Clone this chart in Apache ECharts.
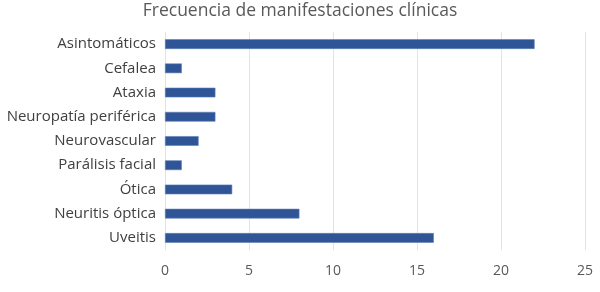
<!DOCTYPE html>
<html><head><meta charset="utf-8">
<script src="https://cdn.jsdelivr.net/npm/echarts@6/dist/echarts.min.js"></script>
<style>html,body{margin:0;padding:0;background:#fff}#c{width:600px;height:292px}</style>
</head><body><div id="c"></div>
<script>
const categories = ["Asintomáticos","Cefalea","Ataxia","Neuropatía periférica","Neurovascular","Parálisis facial","Ótica","Neuritis óptica","Uveitis"];
const values = [22,1,3,3,2,1,4,8,16];
const chart = echarts.init(document.getElementById('c'));
chart.setOption({
  animation:false,
  title:{text:"Frecuencia de manifestaciones clínicas",left:'center',top:-3,
    textStyle:{fontFamily:"Open Sans",fontSize:17.5,fontWeight:'normal',color:'#595959'}},
  grid:{left:165,right:15,top:32,bottom:42,containLabel:false},
  xAxis:{type:'value',min:0,max:25,interval:5,
    axisLine:{show:false},axisTick:{show:false},
    splitLine:{lineStyle:{color:'#e3e3e3',width:1}},
    axisLabel:{fontFamily:"Open Sans",fontSize:14,color:'#595959',margin:14}},
  yAxis:{type:'category',data:categories,inverse:true,
    axisLine:{show:false},axisTick:{show:false},
    axisLabel:{fontFamily:"Open Sans",fontSize:15,color:'#404040',margin:9}},
  series:[{type:'bar',data:values,barCategoryGap:'60%',
    itemStyle:{color:'#2f5597',borderColor:'#5b7fb8',borderWidth:0.6}}]
});
</script></body></html>
